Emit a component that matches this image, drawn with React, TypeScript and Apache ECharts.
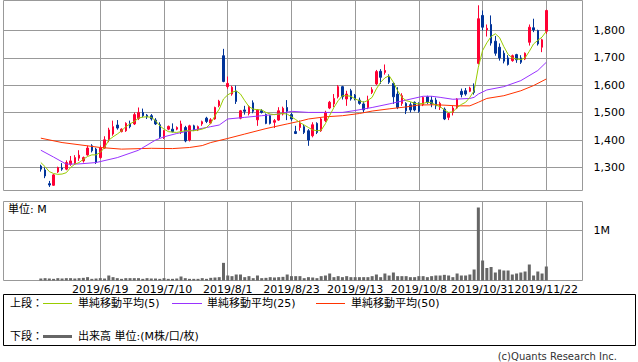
import { useEffect, useRef } from 'react';
import * as echarts from 'echarts';

// OHLC (one per trading day, 2019/5/30 .. 2019/11/22)
const opens = [
  1305, 1291, 1241, 1235, 1284, 1298, 1294, 1312, 1314, 1334, 1324, 1346, 1379, 1367, 1336, 1371, 1401, 1422, 1455, 1431,
  1434, 1461, 1459, 1479, 1501, 1491, 1489, 1473, 1456, 1409, 1440, 1440, 1440, 1428, 1446, 1400, 1452, 1437, 1459, 1480,
  1462, 1477, 1526, 1708, 1595, 1568, 1578, 1480, 1510, 1497, 1536, 1474, 1507, 1493, 1489, 1465, 1473, 1495, 1519, 1493,
  1431, 1446, 1449, 1434, 1416, 1461, 1434, 1471, 1517, 1532, 1558, 1595, 1550, 1580, 1564, 1546, 1532, 1519, 1574, 1605,
  1651, 1647, 1632, 1607, 1568, 1534, 1534, 1529, 1538, 1534, 1529, 1558, 1546, 1546, 1519, 1513, 1483, 1501, 1517, 1578,
  1580, 1578, 1595, 1680, 1855, 1802, 1822, 1761, 1739, 1717, 1700, 1690, 1712, 1700, 1696, 1757, 1810, 1800, 1739, 1797,
];
const closes = [
  1294, 1269, 1236, 1273, 1300, 1294, 1318, 1324, 1336, 1345, 1336, 1371, 1361, 1318, 1371, 1401, 1437, 1449, 1444, 1440,
  1461, 1449, 1493, 1501, 1489, 1485, 1477, 1459, 1412, 1434, 1450, 1431, 1446, 1459, 1397, 1452, 1437, 1449, 1467, 1468,
  1474, 1519, 1542, 1614, 1607, 1593, 1541, 1507, 1505, 1522, 1505, 1510, 1501, 1461, 1461, 1471, 1507, 1516, 1505, 1477,
  1424, 1461, 1428, 1400, 1456, 1428, 1477, 1501, 1538, 1552, 1595, 1558, 1568, 1550, 1550, 1534, 1510, 1546, 1584, 1650,
  1629, 1654, 1611, 1558, 1519, 1562, 1507, 1510, 1510, 1505, 1556, 1538, 1532, 1525, 1534, 1477, 1497, 1517, 1550, 1566,
  1568, 1590, 1574, 1843, 1812, 1808, 1754, 1717, 1700, 1688, 1676, 1708, 1693, 1684, 1717, 1812, 1802, 1751, 1766, 1873,
];
const lows = [
  1285, 1261, 1229, 1233, 1280, 1288, 1290, 1306, 1310, 1324, 1318, 1343, 1355, 1313, 1332, 1368, 1392, 1416, 1438, 1428,
  1430, 1443, 1455, 1473, 1483, 1477, 1471, 1455, 1408, 1404, 1436, 1428, 1436, 1422, 1392, 1395, 1433, 1433, 1452, 1462,
  1458, 1474, 1520, 1611, 1587, 1562, 1532, 1476, 1493, 1490, 1498, 1452, 1497, 1458, 1457, 1444, 1470, 1490, 1473, 1470,
  1422, 1434, 1422, 1379, 1410, 1422, 1430, 1466, 1513, 1520, 1552, 1548, 1525, 1544, 1545, 1529, 1500, 1513, 1568, 1601,
  1605, 1639, 1605, 1532, 1513, 1525, 1495, 1501, 1505, 1500, 1524, 1532, 1520, 1513, 1510, 1473, 1473, 1490, 1513, 1556,
  1562, 1575, 1566, 1676, 1800, 1778, 1745, 1708, 1690, 1680, 1672, 1686, 1682, 1678, 1692, 1745, 1794, 1745, 1721, 1788,
];
const highs = [
  1310, 1300, 1251, 1276, 1303, 1316, 1326, 1342, 1345, 1363, 1340, 1380, 1385, 1372, 1380, 1414, 1445, 1471, 1473, 1443,
  1465, 1471, 1501, 1519, 1515, 1495, 1495, 1480, 1465, 1437, 1453, 1461, 1450, 1471, 1452, 1456, 1456, 1453, 1471, 1485,
  1480, 1522, 1547, 1733, 1632, 1598, 1599, 1510, 1525, 1527, 1545, 1513, 1513, 1497, 1492, 1477, 1520, 1522, 1546, 1500,
  1452, 1471, 1456, 1440, 1465, 1465, 1481, 1507, 1543, 1568, 1601, 1598, 1580, 1587, 1568, 1555, 1541, 1562, 1593, 1656,
  1659, 1676, 1640, 1611, 1593, 1571, 1538, 1538, 1541, 1538, 1560, 1562, 1560, 1555, 1540, 1519, 1501, 1525, 1553, 1588,
  1590, 1595, 1607, 1892, 1873, 1822, 1855, 1780, 1753, 1727, 1710, 1712, 1715, 1710, 1720, 1822, 1843, 1803, 1770, 1876,
];
// Volume in millions of shares
const volumes = [
  0.04, 0.047, 0.04, 0.033, 0.047, 0.04, 0.047, 0.047, 0.04, 0.047, 0.053, 0.067, 0.033, 0.04, 0.047, 0.04, 0.1, 0.067, 0.047, 0.033,
  0.047, 0.047, 0.047, 0.047, 0.033, 0.047, 0.04, 0.04, 0.033, 0.047, 0.033, 0.033, 0.04, 0.08, 0.047, 0.033, 0.033, 0.033, 0.047, 0.033,
  0.053, 0.06, 0.067, 0.353, 0.1, 0.087, 0.12, 0.12, 0.067, 0.087, 0.047, 0.1, 0.047, 0.053, 0.067, 0.06, 0.067, 0.073, 0.12, 0.087,
  0.087, 0.087, 0.047, 0.067, 0.06, 0.047, 0.087, 0.1, 0.14, 0.067, 0.087, 0.067, 0.087, 0.067, 0.067, 0.067, 0.067, 0.067, 0.087, 0.12,
  0.067, 0.14, 0.1, 0.16, 0.087, 0.087, 0.087, 0.067, 0.067, 0.087, 0.087, 0.067, 0.087, 0.1, 0.1, 0.113, 0.1, 0.067, 0.14, 0.1,
  0.1, 0.12, 0.22, 1.46, 0.4, 0.25, 0.27, 0.16, 0.22, 0.2, 0.2, 0.12, 0.14, 0.16, 0.18, 0.32, 0.1, 0.18, 0.14, 0.28,
];
// Moving averages: [day index, value]
const ma5 = [
  [0, 1318], [1, 1303], [2, 1285], [3, 1278], [4, 1275], [5, 1276], [6, 1281], [7, 1300], [8, 1312], [9, 1318],
  [10, 1330], [11, 1340], [12, 1346], [13, 1346], [14, 1355], [15, 1373], [16, 1400], [17, 1412], [18, 1422], [19, 1434],
  [20, 1449], [21, 1459], [22, 1468], [23, 1480], [24, 1484], [25, 1485], [26, 1483], [27, 1471], [28, 1452], [29, 1440],
  [30, 1431], [31, 1429], [32, 1428], [33, 1431], [34, 1434], [35, 1434], [36, 1434], [37, 1437], [38, 1440], [39, 1446],
  [40, 1461], [41, 1489], [42, 1513], [43, 1550], [44, 1565], [45, 1574], [46, 1580], [47, 1568], [48, 1544], [49, 1522],
  [50, 1513], [51, 1511], [52, 1510], [53, 1501], [54, 1495], [55, 1493], [56, 1495], [57, 1497], [58, 1495], [59, 1485],
  [60, 1475], [61, 1464], [62, 1455], [63, 1446], [64, 1437], [65, 1434], [66, 1436], [67, 1460], [68, 1490], [69, 1519],
  [70, 1544], [71, 1562], [72, 1562], [73, 1560], [74, 1550], [75, 1544], [76, 1538], [77, 1545], [78, 1556], [79, 1587],
  [80, 1611], [81, 1627], [82, 1635], [83, 1611], [84, 1580], [85, 1556], [86, 1544], [87, 1540], [88, 1534], [89, 1532],
  [90, 1534], [91, 1538], [92, 1536], [93, 1528], [94, 1522], [95, 1510], [96, 1501], [97, 1503], [98, 1519], [99, 1530],
  [100, 1538], [101, 1556], [102, 1580], [103, 1666], [104, 1727], [105, 1755], [106, 1778], [107, 1788], [108, 1774], [109, 1741],
  [110, 1713], [111, 1700], [112, 1696], [113, 1694], [114, 1700], [115, 1724], [116, 1751], [117, 1764], [118, 1776], [119, 1797],
];
const ma25 = [
  [0, 1363], [3, 1338], [6, 1312], [9, 1313], [13, 1318], [18, 1336], [23, 1363], [27, 1400], [29, 1412], [32, 1424],
  [36, 1437], [40, 1449], [42, 1455], [44, 1477], [48, 1483], [52, 1489], [56, 1495], [59, 1505], [63, 1501], [67, 1501],
  [71, 1501], [74, 1508], [78, 1519], [82, 1532], [86, 1546], [90, 1560], [92, 1560], [94, 1556], [97, 1549], [101, 1552],
  [102, 1556], [103, 1568], [105, 1583], [109, 1595], [113, 1617], [117, 1654], [119, 1684],
];
const ma50 = [
  [0, 1407], [5, 1391], [11, 1379], [14, 1373], [19, 1367], [26, 1370], [31, 1369], [35, 1373], [38, 1380], [40, 1391],
  [44, 1406], [48, 1422], [53, 1442], [58, 1459], [61, 1469], [63, 1477], [67, 1485], [71, 1489], [75, 1497], [78, 1506],
  [82, 1514], [86, 1521], [89, 1528], [93, 1529], [98, 1525], [101, 1525], [103, 1538], [105, 1552], [109, 1562], [113, 1580],
  [116, 1599], [119, 1623],
];
const dateTickIndex = [14, 29, 44, 59, 74, 89, 104, 119];
const dateTickLabels = ['2019/6/19', '2019/7/10', '2019/8/1', '2019/8/23', '2019/9/13', '2019/10/8', '2019/10/31', '2019/11/22'];
const priceTicks = [1300, 1400, 1500, 1600, 1700, 1800];
const volumeTicks = [1];

const FONT = '"DejaVu Sans", "Noto Sans CJK JP", sans-serif';
const GRID_COLOR = '#999999';
const UP = '#ff0033';
const DOWN = '#003399';
const C5 = '#99cc00';
const C25 = '#9933ff';
const C50 = '#ff3300';

export default function App() {
  const ref = useRef<HTMLDivElement>(null);
  useEffect(() => {
    if (!ref.current) return;
    const chart = echarts.init(ref.current, undefined, { renderer: 'svg' });
    const xMin = -8.79;
    const xMax = 127.52;
    const xCommon = {
      type: 'value' as const,
      min: xMin,
      max: xMax,
      axisLine: { show: false },
      axisTick: { show: false, customValues: dateTickIndex },
      splitLine: { show: true, lineStyle: { color: GRID_COLOR, width: 1 } },
    };
    const candleData = opens.map((o, i) => [i, o, closes[i], lows[i], highs[i]]);
    const volData = volumes.map((v, i) => [i, v]);
    const legendY1 = 303;
    const legendY2 = 336;
    const txt = (x: number, y: number, text: string, extra: any = {}) => ({
      type: 'text',
      x,
      y,
      style: { text, fill: '#000', font: `11px ${FONT}`, textVerticalAlign: 'middle', verticalAlign: 'middle', ...extra },
    });
    const seg = (x1: number, x2: number, y: number, color: string, w = 1) => ({
      type: 'line',
      shape: { x1, y1: y + 0.5, x2, y2: y + 0.5 },
      style: { stroke: color, lineWidth: w },
    });
    chart.setOption({
      animation: false,
      backgroundColor: '#ffffff',
      textStyle: { fontFamily: FONT },
      grid: [
        { left: 3.5, top: 0.5, width: 579, height: 190, show: true, borderColor: GRID_COLOR, borderWidth: 1 },
        { left: 3.5, top: 201.5, width: 579, height: 79, show: true, borderColor: GRID_COLOR, borderWidth: 1 },
      ],
      xAxis: [
        { ...xCommon, gridIndex: 0, axisLabel: { show: false, customValues: dateTickIndex } },
        {
          ...xCommon,
          gridIndex: 1,
          axisLabel: {
            show: true,
            customValues: dateTickIndex,
            margin: 3,
            fontSize: 11,
            color: '#000',
            fontFamily: FONT,
            formatter: (v: number) => {
              const k = dateTickIndex.indexOf(Math.round(v));
              return k >= 0 ? dateTickLabels[k] : '';
            },
          },
        },
      ],
      yAxis: [
        {
          type: 'value',
          gridIndex: 0,
          position: 'right',
          min: 1216,
          max: 1909.5,
          axisLine: { show: false },
          axisTick: { show: true, length: 6, customValues: priceTicks, lineStyle: { color: GRID_COLOR } },
          axisLabel: {
            customValues: priceTicks,
            margin: 11,
            fontSize: 11,
            color: '#000',
            fontFamily: FONT,
            formatter: (v: number) => v.toLocaleString('en-US'),
          },
          splitLine: { show: true, lineStyle: { color: GRID_COLOR, width: 1 } },
        },
        {
          type: 'value',
          gridIndex: 1,
          position: 'right',
          min: 0,
          max: 1.58,
          axisLine: { show: false },
          axisTick: { show: true, length: 6, customValues: volumeTicks, lineStyle: { color: GRID_COLOR } },
          axisLabel: {
            customValues: volumeTicks,
            margin: 11,
            fontSize: 11,
            color: '#000',
            fontFamily: FONT,
            formatter: (v: number) => `${v}M`,
          },
          splitLine: { show: true, lineStyle: { color: GRID_COLOR, width: 1 } },
        },
      ],
      series: [
        {
          type: 'candlestick',
          xAxisIndex: 0,
          yAxisIndex: 0,
          data: candleData,
          encode: { x: 0, y: [1, 2, 3, 4] },
          barWidth: 2,
          z: 2,
          itemStyle: {
            color: UP,
            color0: DOWN,
            borderColor: UP,
            borderColor0: DOWN,
            borderWidth: 1,
          },
        },
        { type: 'line', xAxisIndex: 0, yAxisIndex: 0, data: ma50, symbol: 'none', z: 3, lineStyle: { color: C50, width: 1 } },
        { type: 'line', xAxisIndex: 0, yAxisIndex: 0, data: ma25, symbol: 'none', z: 3, lineStyle: { color: C25, width: 1 } },
        { type: 'line', xAxisIndex: 0, yAxisIndex: 0, data: ma5, symbol: 'none', z: 4, lineStyle: { color: C5, width: 1 } },
        {
          type: 'bar',
          xAxisIndex: 1,
          yAxisIndex: 1,
          data: volData,
          barWidth: 3,
          itemStyle: { color: '#666666' },
        },
      ],
      graphic: [
        txt(8, 209, '単位: M'),
        {
          type: 'rect',
          shape: { x: 3.5, y: 294.5, width: 632, height: 51 },
          style: { fill: 'none', stroke: '#000', lineWidth: 1 },
        },
        txt(10, legendY1, '上段：'),
        seg(43, 72, legendY1, C5),
        txt(78, legendY1, '単純移動平均(5)'),
        seg(172, 202, legendY1, C25),
        txt(207, legendY1, '単純移動平均(25)'),
        seg(316, 345, legendY1, C50),
        txt(351, legendY1, '単純移動平均(50)'),
        txt(10, legendY2, '下段：'),
        seg(43, 72, legendY2, '#666666', 3),
        txt(78, legendY2, '出来高 単位:(M株/口/枚)'),
        txt(617, 356, '(c)Quants Research Inc.', { textAlign: 'right', align: 'right', fill: '#333', font: `10px ${FONT}` }),
      ],
    });
    return () => chart.dispose();
  }, []);
  return (
    <div
      ref={ref}
      style={{ position: 'fixed', left: 0, top: 0, width: 638, height: 362, background: '#fff' }}
    />
  );
}
